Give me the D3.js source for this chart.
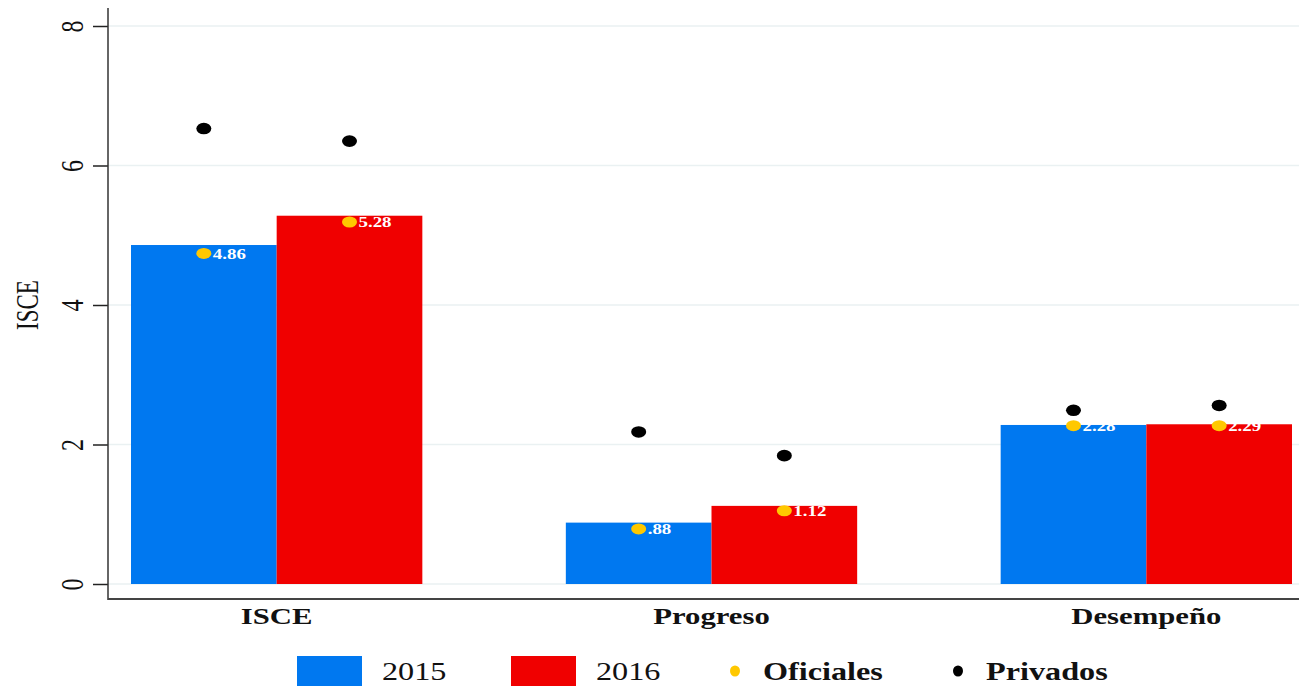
<!DOCTYPE html>
<html>
<head>
<meta charset="utf-8">
<script src="https://cdn.jsdelivr.net/npm/d3@7"></script>
<style>
  body { margin: 0; background: #fff; }
  text { font-family: "Liberation Serif", "Times New Roman", serif; }
</style>
</head>
<body>
<div id="chart"></div>
<script>
// data
var categories = ["ISCE", "Progreso", "Desempeño"];
var years = ["2015", "2016"];
var values2015 = [4.86, 0.88, 2.28];
var values2016 = [5.28, 1.12, 2.29];
var oficiales2015 = [4.74, 0.79, 2.27];
var oficiales2016 = [5.19, 1.05, 2.27];
var privados2015 = [6.53, 2.18, 2.49];
var privados2016 = [6.35, 1.84, 2.56];
var yTicks = [0, 2, 4, 6, 8];

var width = 1299, height = 686;
var sx = 1.35; // the picture is stretched sideways

var colors = { "2015": "#0078F0", "2016": "#F00000" };

var rows = [];
categories.forEach(function (c, i) {
  rows.push({ cat: c, year: "2015", value: values2015[i], ofi: oficiales2015[i], pri: privados2015[i] });
  rows.push({ cat: c, year: "2016", value: values2016[i], ofi: oficiales2016[i], pri: privados2016[i] });
});

var svg = d3.select("#chart").append("svg")
  .attr("width", width)
  .attr("height", height);

var x0 = d3.scaleBand().domain(categories).range([131, 1292]).paddingInner(0.33).paddingOuter(0);
var x1 = d3.scaleBand().domain(years).range([0, x0.bandwidth()]).padding(0);
var y = d3.scaleLinear().domain([0, 8]).range([584, 26]);

var axisX = 108;

// gridlines
svg.selectAll(".grid")
  .data(yTicks)
  .enter()
  .append("line")
  .attr("x1", axisX)
  .attr("x2", width)
  .attr("y1", (d) => y(d))
  .attr("y2", (d) => y(d))
  .attr("stroke", "#EAF1F2")
  .attr("stroke-width", 1.5);

// bars
svg.selectAll(".bar")
  .data(rows)
  .enter()
  .append("rect")
  .attr("x", (d) => x0(d.cat) + x1(d.year))
  .attr("y", (d) => y(d.value))
  .attr("width", x1.bandwidth())
  .attr("height", (d) => y(0) - y(d.value))
  .attr("fill", (d) => colors[d.year]);

// private dots
svg.selectAll(".pri")
  .data(rows)
  .enter()
  .append("ellipse")
  .attr("cx", (d) => x0(d.cat) + x1(d.year) + x1.bandwidth() / 2)
  .attr("cy", (d) => y(d.pri))
  .attr("rx", 7.5)
  .attr("ry", 5.8)
  .attr("fill", "#000");

// official dots
svg.selectAll(".ofi")
  .data(rows)
  .enter()
  .append("ellipse")
  .attr("cx", (d) => x0(d.cat) + x1(d.year) + x1.bandwidth() / 2)
  .attr("cy", (d) => y(d.ofi))
  .attr("rx", 7.5)
  .attr("ry", 5.5)
  .attr("fill", "#FFC800");

// value labels
var fmt = (v) => (v < 1 ? d3.format(".2f")(v).replace(/^0/, "") : d3.format(".2f")(v));
svg.selectAll(".lbl")
  .data(rows)
  .enter()
  .append("text")
  .attr("transform", (d) =>
    "translate(" + (x0(d.cat) + x1(d.year) + x1.bandwidth() / 2 + 9) + "," + (y(d.ofi) + 5.5) + ") scale(" + sx + ",1)")
  .attr("fill", "#fff")
  .attr("font-weight", "bold")
  .attr("font-size", 14)
  .text((d) => fmt(d.value));

// y axis
var yAxis = svg.append("g")
  .attr("transform", "translate(" + axisX + ",0)")
  .call(d3.axisLeft(y).tickValues(yTicks).tickSize(15).tickSizeOuter(0).tickPadding(0));
yAxis.select(".domain").remove();
yAxis.append("line")
  .attr("x1", 0).attr("x2", 0)
  .attr("y1", 8).attr("y2", 600)
  .attr("stroke", "#333").attr("stroke-width", 1.5);
yAxis.selectAll(".tick line").attr("stroke", "#222").attr("stroke-width", 1.5);
yAxis.selectAll(".tick text")
  .attr("x", null).attr("dy", null)
  .attr("transform", "translate(-36,0) scale(" + sx + ",1) rotate(-90)")
  .attr("text-anchor", "middle")
  .attr("dy", "0.35em")
  .attr("font-size", 24)
  .attr("fill", "#111");

// y title
svg.append("text")
  .attr("transform", "translate(38,305) scale(" + sx + ",1) rotate(-90)")
  .attr("text-anchor", "middle")
  .attr("font-size", 23)
  .attr("fill", "#111")
  .text("ISCE");

// x axis line
svg.append("line")
  .attr("x1", axisX).attr("x2", width)
  .attr("y1", 599).attr("y2", 599)
  .attr("stroke", "#444").attr("stroke-width", 2);

// category labels
svg.selectAll(".cat")
  .data(categories)
  .enter()
  .append("text")
  .attr("transform", (d) => "translate(" + (x0(d) + x0.bandwidth() / 2) + ",624) scale(1.28,1)")
  .attr("text-anchor", "middle")
  .attr("font-weight", "bold")
  .attr("font-size", 24)
  .attr("fill", "#111")
  .text((d) => d);

// legend
var legendItems = [
  { label: "2015", type: "rect", color: colors["2015"], x: 297, bold: false },
  { label: "2016", type: "rect", color: colors["2016"], x: 511, bold: false },
  { label: "Oficiales", type: "dot", color: "#FFC800", x: 735, bold: true },
  { label: "Privados", type: "dot", color: "#000", x: 958, bold: true }
];
var legend = svg.selectAll(".legend")
  .data(legendItems)
  .enter()
  .append("g")
  .attr("transform", (d) => "translate(" + d.x + ",0)");

legend.filter((d) => d.type === "rect")
  .append("rect")
  .attr("x", 0).attr("y", 656)
  .attr("width", 65).attr("height", 30)
  .attr("fill", (d) => d.color);

legend.filter((d) => d.type === "dot")
  .append("ellipse")
  .attr("cx", 0).attr("cy", 671)
  .attr("rx", 5).attr("ry", 5.5)
  .attr("fill", (d) => d.color);

legend.append("text")
  .attr("transform", (d) => "translate(" + (d.type === "rect" ? 85 : 28) + ",680) scale(1.24,1)")
  .attr("font-size", 26)
  .attr("font-weight", (d) => (d.bold ? "bold" : "normal"))
  .attr("fill", "#111")
  .text((d) => d.label);
</script>
</body>
</html>
